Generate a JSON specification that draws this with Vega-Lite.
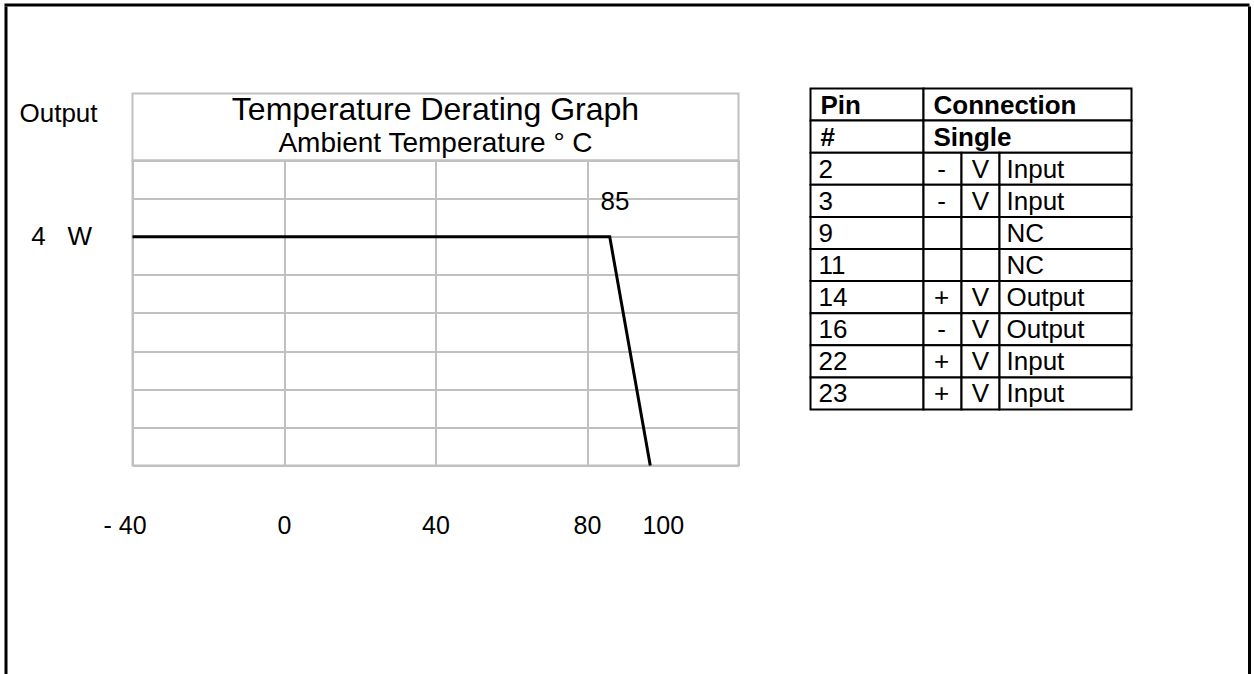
{
  "$schema": "https://vega.github.io/schema/vega-lite/v6.json",
  "background": "white",
  "padding": {"left": 4.5, "top": 3.5, "right": 0, "bottom": 0},
  "spacing": 0,
  "config": {"view": {"stroke": null}, "font": "Liberation Sans"},
  "vconcat": [
    {
      "width": 1245,
      "height": 3,
      "view": {"fill": "black", "stroke": null},
      "data": {"values": []},
      "mark": {"type": "text"}
    },
    {
      "spacing": 10,
      "hconcat": [
        {
          "width": 3,
          "height": 680,
          "view": {"fill": "black", "stroke": null},
          "data": {"values": []},
          "mark": {"type": "text"}
        },
        {
          "spacing": 115.5,
          "hconcat": [
            {
              "spacing": 70,
              "hconcat": [
                {
                  "bounds": "flush",
                  "spacing": 0,
                  "vconcat": [
                    {
                      "width": 606,
                      "height": 86.5,
                      "data": {"values": []},
                      "mark": {"type": "text"}
                    },
                    {
                      "width": 606,
                      "height": 67,
                      "view": {"stroke": "#c0c0c0", "strokeWidth": 2},
                      "title": {
                        "text": "Temperature Derating Graph",
                        "subtitle": "Ambient Temperature ° C",
                        "anchor": "middle",
                        "frame": "group",
                        "offset": -65,
                        "font": "Liberation Sans",
                        "subtitleFont": "Liberation Sans",
                        "fontSize": 32,
                        "fontWeight": "normal",
                        "subtitleFontSize": 28,
                        "color": "black",
                        "subtitleColor": "black",
                        "subtitlePadding": 3
                      },
                      "data": {"values": []},
                      "mark": {"type": "text"}
                    },
                    {
                      "width": 606,
                      "height": 305,
                      "view": {"stroke": "#c0c0c0", "strokeWidth": 2},
                      "data": {
                        "values": [
                          {"temp": -40, "power": 4},
                          {"temp": 86, "power": 4},
                          {"temp": 96.7, "power": 0}
                        ]
                      },
                      "layer": [
                        {
                          "mark": {"type": "line", "color": "black", "strokeWidth": 3},
                          "encoding": {
                            "x": {
                              "field": "temp",
                              "type": "quantitative",
                              "scale": {"domain": [-40, 120], "nice": false, "zero": false},
                              "axis": {
                                "values": [-40, 0, 40, 80, 100, 120],
                                "tickCount": 20,
                                "labelExpr": "datum.value == -40 ? '- 40' : (datum.value == 120 ? '' : datum.label)",
                                "labelOffset": {"condition": {"test": "datum.value == -40", "value": -8}, "value": 0},
                                "grid": true,
                                "gridColor": "#c0c0c0",
                                "gridWidth": 2,
                                "gridOpacity": {"condition": {"test": "datum.value == 100", "value": 0}, "value": 1},
                                "ticks": false,
                                "domain": false,
                                "labelFontSize": 25,
                                "labelPadding": 48,
                                "labelColor": "black",
                                "labelFlush": false,
                                "labelOverlap": false,
                                "title": null
                              }
                            },
                            "y": {
                              "field": "power",
                              "type": "quantitative",
                              "scale": {"domain": [0, 5.33333], "nice": false, "zero": true},
                              "axis": {
                                "values": [0, 0.66667, 1.33333, 2, 2.66667, 3.33333, 4, 4.66667, 5.33333],
                                "tickCount": 20,
                                "grid": true,
                                "gridColor": "#c0c0c0",
                                "gridWidth": 2,
                                "ticks": false,
                                "domain": false,
                                "labelExpr": "datum.value == 4 ? '4\u00a0\u00a0\u00a0W' : ''",
                                "labelFontSize": 26,
                                "labelPadding": 41,
                                "labelColor": "black",
                                "labelOverlap": false,
                                "title": "Output",
                                "titleAngle": 0,
                                "titleX": -113.5,
                                "titleY": -47,
                                "titleAlign": "left",
                                "titleBaseline": "middle",
                                "titleFontSize": 26,
                                "titleFontWeight": "normal",
                                "titleColor": "black"
                              }
                            }
                          }
                        },
                        {
                          "data": {"values": [{"temp": 85, "power": 4, "label": "85"}]},
                          "mark": {"type": "text", "fontSize": 26, "dx": 9, "dy": -35, "align": "center", "baseline": "middle", "color": "black"},
                          "encoding": {
                            "x": {"field": "temp", "type": "quantitative"},
                            "y": {"field": "power", "type": "quantitative"},
                            "text": {"field": "label"}
                          }
                        }
                      ]
                    }
                  ]
                },
                {
                  "bounds": "flush",
                  "spacing": 0,
                  "vconcat": [
                    {
                      "width": 321,
                      "height": 81.5,
                      "data": {"values": []},
                      "mark": {"type": "text"}
                    },
                    {
                      "width": 321,
                      "height": 321,
                      "data": {
                        "values": [
                          {"row": 0, "c0": 0, "c1": 1, "text": "Pin"},
                          {"row": 0, "c0": 1, "c1": 4, "text": "Connection"},
                          {"row": 1, "c0": 0, "c1": 1, "text": "#"},
                          {"row": 1, "c0": 1, "c1": 4, "text": "Single"},
                          {"row": 2, "c0": 0, "c1": 1, "text": "2"},
                          {"row": 2, "c0": 1, "c1": 2, "text": "-"},
                          {"row": 2, "c0": 2, "c1": 3, "text": "V"},
                          {"row": 2, "c0": 3, "c1": 4, "text": "Input"},
                          {"row": 3, "c0": 0, "c1": 1, "text": "3"},
                          {"row": 3, "c0": 1, "c1": 2, "text": "-"},
                          {"row": 3, "c0": 2, "c1": 3, "text": "V"},
                          {"row": 3, "c0": 3, "c1": 4, "text": "Input"},
                          {"row": 4, "c0": 0, "c1": 1, "text": "9"},
                          {"row": 4, "c0": 1, "c1": 2, "text": ""},
                          {"row": 4, "c0": 2, "c1": 3, "text": ""},
                          {"row": 4, "c0": 3, "c1": 4, "text": "NC"},
                          {"row": 5, "c0": 0, "c1": 1, "text": "11"},
                          {"row": 5, "c0": 1, "c1": 2, "text": ""},
                          {"row": 5, "c0": 2, "c1": 3, "text": ""},
                          {"row": 5, "c0": 3, "c1": 4, "text": "NC"},
                          {"row": 6, "c0": 0, "c1": 1, "text": "14"},
                          {"row": 6, "c0": 1, "c1": 2, "text": "+"},
                          {"row": 6, "c0": 2, "c1": 3, "text": "V"},
                          {"row": 6, "c0": 3, "c1": 4, "text": "Output"},
                          {"row": 7, "c0": 0, "c1": 1, "text": "16"},
                          {"row": 7, "c0": 1, "c1": 2, "text": "-"},
                          {"row": 7, "c0": 2, "c1": 3, "text": "V"},
                          {"row": 7, "c0": 3, "c1": 4, "text": "Output"},
                          {"row": 8, "c0": 0, "c1": 1, "text": "22"},
                          {"row": 8, "c0": 1, "c1": 2, "text": "+"},
                          {"row": 8, "c0": 2, "c1": 3, "text": "V"},
                          {"row": 8, "c0": 3, "c1": 4, "text": "Input"},
                          {"row": 9, "c0": 0, "c1": 1, "text": "23"},
                          {"row": 9, "c0": 1, "c1": 2, "text": "+"},
                          {"row": 9, "c0": 2, "c1": 3, "text": "V"},
                          {"row": 9, "c0": 3, "c1": 4, "text": "Input"}
                        ]
                      },
                      "encoding": {
                        "x": {
                          "field": "c0",
                          "type": "quantitative",
                          "scale": {"domain": [0, 1, 2, 3, 4], "range": [0, 113, 151, 189, 321], "nice": false, "zero": false},
                          "axis": null
                        },
                        "y": {
                          "field": "row",
                          "type": "ordinal",
                          "scale": {"paddingInner": 0, "paddingOuter": 0},
                          "axis": null
                        }
                      },
                      "layer": [
                        {
                          "mark": {"type": "rect", "fill": "white", "stroke": "black", "strokeWidth": 2},
                          "encoding": {"x2": {"field": "c1"}}
                        },
                        {
                          "transform": [{"filter": "datum.row < 2"}],
                          "mark": {"type": "text", "align": "left", "baseline": "middle", "dx": 10, "dy": 1, "font": "Liberation Sans", "fontSize": 26, "fontWeight": "bold", "color": "black"},
                          "encoding": {"text": {"field": "text"}}
                        },
                        {
                          "transform": [{"filter": "datum.row >= 2 && datum.c0 == 0"}],
                          "mark": {"type": "text", "align": "left", "baseline": "middle", "dx": 8, "dy": 1, "font": "Liberation Sans", "fontSize": 26, "color": "black"},
                          "encoding": {"text": {"field": "text"}}
                        },
                        {
                          "transform": [{"filter": "datum.row >= 2 && datum.c0 == 1"}],
                          "mark": {"type": "text", "align": "center", "baseline": "middle", "dx": 18, "dy": 1, "font": "Liberation Sans", "fontSize": 26, "color": "black"},
                          "encoding": {"text": {"field": "text"}}
                        },
                        {
                          "transform": [{"filter": "datum.row >= 2 && datum.c0 == 2"}],
                          "mark": {"type": "text", "align": "center", "baseline": "middle", "dx": 19, "dy": 1, "font": "Liberation Sans", "fontSize": 26, "color": "black"},
                          "encoding": {"text": {"field": "text"}}
                        },
                        {
                          "transform": [{"filter": "datum.row >= 2 && datum.c0 == 3"}],
                          "mark": {"type": "text", "align": "left", "baseline": "middle", "dx": 7, "dy": 1, "font": "Liberation Sans", "fontSize": 26, "color": "black"},
                          "encoding": {"text": {"field": "text"}}
                        }
                      ]
                    }
                  ]
                }
              ]
            },
            {
              "width": 3,
              "height": 680,
              "view": {"fill": "black", "stroke": null},
              "data": {"values": []},
              "mark": {"type": "text"}
            }
          ]
        }
      ]
    }
  ]
}
